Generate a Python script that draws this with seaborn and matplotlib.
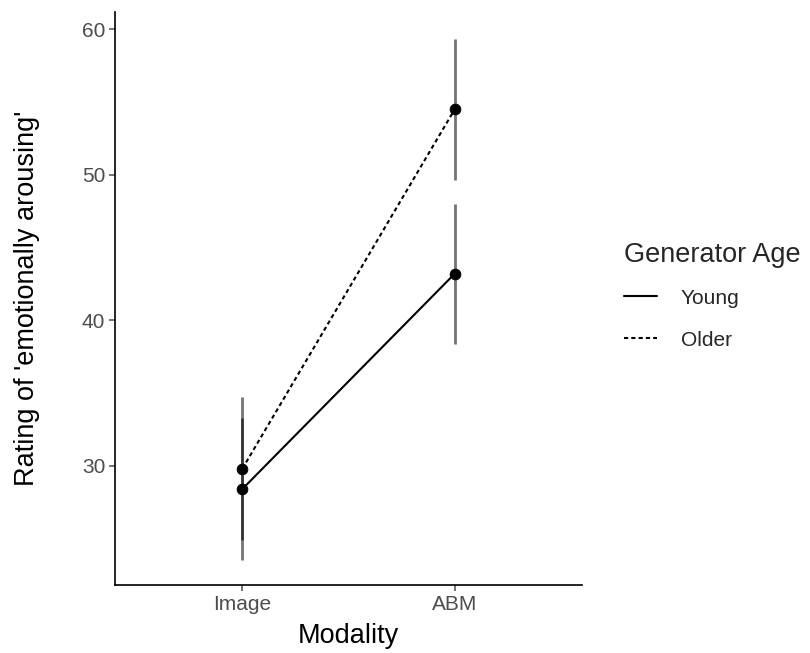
import numpy as np
import pandas as pd
import matplotlib
matplotlib.use('Agg')
import matplotlib.pyplot as plt
import seaborn as sns

# dados
modalidades = ['Image', 'ABM']
idades = ['Young', 'Older']
media_young = [28.4, 43.2]
media_older = [29.8, 54.5]
erro_young = [4.85, 4.8]
erro_older = [4.9, 4.85]

df = pd.DataFrame({
    'Modality': modalidades * 2,
    'Rating': media_young + media_older,
    'Age': ['Young'] * 2 + ['Older'] * 2,
    'err': erro_young + erro_older,
})

sns.set_style('white')
plt.rcParams['font.family'] = ['Liberation Sans', 'DejaVu Sans']

fig = plt.figure(figsize=(8.1, 6.53), dpi=100)
ax = fig.add_axes([115 / 810, 68 / 653, 467 / 810, 573 / 653])

# barras de erro (cinza, semi-transparente)
for idade in idades:
    sub = df[df['Age'] == idade]
    xpos = [modalidades.index(m) for m in sub['Modality']]
    ax.vlines(xpos, sub['Rating'] - sub['err'], sub['Rating'] + sub['err'],
              color='black', alpha=0.55, linewidth=2, zorder=1)

estilos = {'Young': '', 'Older': (2, 1.5)}
sns.lineplot(data=df, x='Modality', y='Rating', style='Age', style_order=idades,
             dashes=estilos, color='black', linewidth=1.5, ax=ax, zorder=2,
             sort=False, legend=True)
sns.scatterplot(data=df, x='Modality', y='Rating', color='black', s=60,
                ax=ax, zorder=3, legend=False, edgecolor='black')

ax.set_xlim(-0.6, 1.6)
ax.set_ylim(21.8, 61.2)
ax.set_yticks([30, 40, 50, 60])
ax.set_xticks([0, 1])
ax.set_xticklabels(modalidades)
ax.tick_params(axis='both', colors='#4D4D4D', labelsize=15, length=4, width=1.1,
               direction='out', left=True, bottom=True, pad=3)
for s in ['top', 'right']:
    ax.spines[s].set_visible(False)
for s in ['left', 'bottom']:
    ax.spines[s].set_color('black')
    ax.spines[s].set_linewidth(1.2)
ax.grid(False)

ax.set_xlabel('Modality', fontsize=19.5, color='black', labelpad=7)
ax.set_ylabel("Rating of 'emotionally arousing'", fontsize=19.5, color='black', labelpad=30)

leg = ax.legend(title='Generator Age', loc='center left', bbox_to_anchor=(1.073, 0.505),
                frameon=False, fontsize=15, title_fontsize=19.5, handlelength=1.55,
                labelspacing=1.1, handletextpad=1.15, borderaxespad=0)
leg._legend_box.align = 'left'
leg._legend_box.sep = 15

fig.savefig('out.png', dpi=100)
